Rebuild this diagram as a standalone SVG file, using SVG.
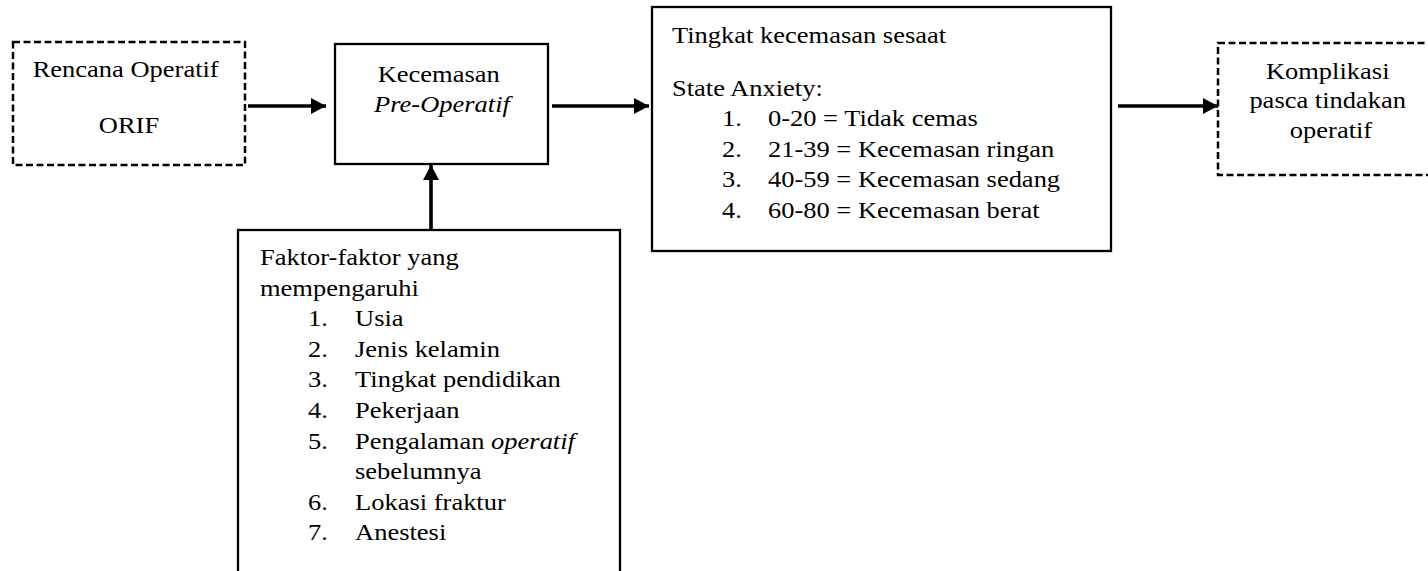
<svg xmlns="http://www.w3.org/2000/svg" width="1428" height="571" viewBox="0 0 1428 571">
<style>
  .box { fill: #ffffff; stroke: #000000; stroke-width: 2.3; }
  .dash { fill: #ffffff; stroke: #000000; stroke-width: 2.5; stroke-dasharray: 7 3.5; }
  .t { font-size: 23.3px; fill: #000000; }
  .c { text-anchor: middle; }
  .i { font-style: italic; }
  .conn { stroke: #000000; stroke-width: 3.6; fill: none; }
</style>
<defs>
  <marker id="ah" markerUnits="userSpaceOnUse" markerWidth="16" markerHeight="16" refX="15" refY="8" orient="auto">
    <path d="M0,0 L15,8 L0,16 Z" fill="#000000"/>
  </marker>
</defs>
<rect width="1428" height="571" fill="#ffffff"/>

<g id="connectors">
  <line class="conn" x1="248" y1="106" x2="326" y2="106" marker-end="url(#ah)"/>
  <line class="conn" x1="552" y1="106" x2="649" y2="106" marker-end="url(#ah)"/>
  <line class="conn" x1="431" y1="230" x2="431" y2="165" marker-end="url(#ah)"/>
  <line class="conn" x1="1118" y1="106" x2="1218" y2="106" marker-end="url(#ah)"/>
</g>

<g id="node-rencana">
  <rect class="dash" x="13" y="42" width="232" height="123"/>
  <text class="t c" font-family="Liberation Serif, Times New Roman, serif" transform="translate(129 0) scale(1.137 1)">
    <tspan x="0" y="77">Rencana Operatif</tspan>
    <tspan x="0" y="133">ORIF</tspan>
  </text>
</g>

<g id="node-kecemasan">
  <rect class="box" x="335" y="44" width="213" height="120"/>
  <text class="t c" font-family="Liberation Serif, Times New Roman, serif" transform="translate(442 0) scale(1.137 1)">
    <tspan x="0" y="82">Kecemasan</tspan>
    <tspan x="0" y="112" class="i">Pre-Operatif</tspan>
  </text>
</g>

<g id="node-tingkat">
  <rect class="box" x="652" y="7" width="459" height="244"/>
  <text class="t" font-family="Liberation Serif, Times New Roman, serif" transform="translate(672 0) scale(1.137 1)">
    <tspan x="0" y="43">Tingkat kecemasan sesaat</tspan>
    <tspan x="0" y="96">State Anxiety:</tspan>
    <tspan x="44" y="126.5">1.</tspan><tspan x="84.4" y="126.5">0-20 = Tidak cemas</tspan>
    <tspan x="44" y="157">2.</tspan><tspan x="84.4" y="157">21-39 = Kecemasan ringan</tspan>
    <tspan x="44" y="187.5">3.</tspan><tspan x="84.4" y="187.5">40-59 = Kecemasan sedang</tspan>
    <tspan x="44" y="218">4.</tspan><tspan x="84.4" y="218">60-80 = Kecemasan berat</tspan>
  </text>
</g>

<g id="node-komplikasi">
  <rect class="dash" x="1218" y="43" width="220" height="132"/>
  <text class="t c" font-family="Liberation Serif, Times New Roman, serif" transform="translate(1331 0) scale(1.137 1)">
    <tspan x="0" y="79">Komplikasi</tspan>
    <tspan x="0" y="108.5">pasca tindakan</tspan>
    <tspan x="0" y="138">operatif</tspan>
  </text>
</g>

<g id="node-faktor">
  <rect class="box" x="238" y="230" width="382" height="360"/>
  <text class="t" font-family="Liberation Serif, Times New Roman, serif" transform="translate(260 0) scale(1.137 1)">
    <tspan x="0" y="265">Faktor-faktor yang</tspan>
    <tspan x="0" y="295.6">mempengaruhi</tspan>
    <tspan x="42.2" y="326.2">1.</tspan><tspan x="83.6" y="326.2">Usia</tspan>
    <tspan x="42.2" y="356.8">2.</tspan><tspan x="83.6" y="356.8">Jenis kelamin</tspan>
    <tspan x="42.2" y="387.4">3.</tspan><tspan x="83.6" y="387.4">Tingkat pendidikan</tspan>
    <tspan x="42.2" y="418">4.</tspan><tspan x="83.6" y="418">Pekerjaan</tspan>
    <tspan x="42.2" y="448.6">5.</tspan><tspan x="83.6" y="448.6">Pengalaman <tspan class="i">operatif</tspan></tspan>
    <tspan x="83.6" y="479.2">sebelumnya</tspan>
    <tspan x="42.2" y="509.8">6.</tspan><tspan x="83.6" y="509.8">Lokasi fraktur</tspan>
    <tspan x="42.2" y="540.4">7.</tspan><tspan x="83.6" y="540.4">Anestesi</tspan>
  </text>
</g>
</svg>
